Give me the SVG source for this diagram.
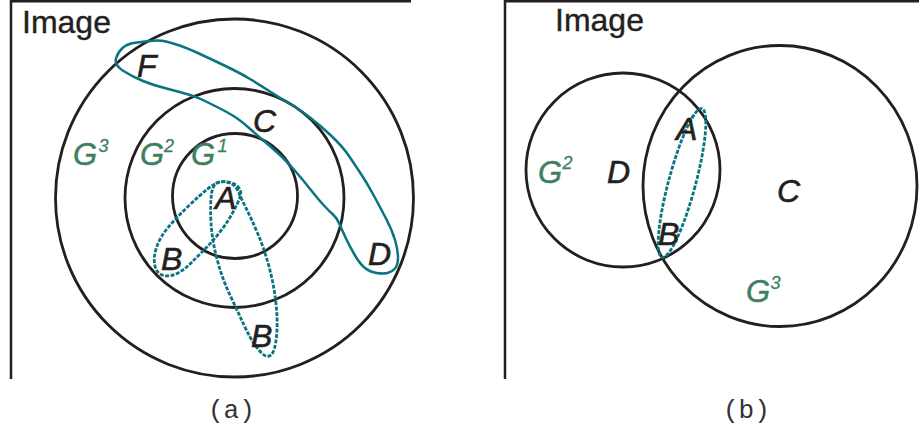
<svg xmlns="http://www.w3.org/2000/svg" width="919" height="430" viewBox="0 0 919 430">
<defs>
<style>
.frame{fill:none;stroke:#231f20;stroke-width:2.5}
.ring{fill:none;stroke:#231f20;stroke-width:2.8}
.loop{fill:none;stroke:#0a7480;stroke-width:2.5;stroke-linejoin:round}
.dot{fill:none;stroke:#0a7480;stroke-width:2.8;stroke-dasharray:4 1.5;stroke-linejoin:round}
.lbl{font-family:"Liberation Sans",Arial,sans-serif;font-style:italic;font-size:32px;fill:#231f20;stroke:#231f20;stroke-width:0.6}
.g{font-family:"Liberation Sans",Arial,sans-serif;font-style:italic;font-size:31px;fill:#3f7f5f;stroke:#3f7f5f;stroke-width:0.5}
.sup{font-family:"Liberation Sans",Arial,sans-serif;font-style:italic;font-size:18px;fill:#3f7f5f;stroke:#3f7f5f;stroke-width:0.3}
.title{font-family:"Liberation Sans",Arial,sans-serif;font-size:32px;fill:#231f20;stroke:#231f20;stroke-width:0.4}
.cap{font-family:"Liberation Mono","Courier New",monospace;font-size:26px;fill:#333333}
</style>
</defs>
<rect width="919" height="430" fill="#ffffff"/>

<g id="panel-a-frame">
<path class="frame" d="M11,379 V1.3 H411"/>
<text class="title" x="22" y="33">Image</text>
</g>
<g id="G3-a"><circle class="ring" cx="234.5" cy="198" r="179"/>
<text class="g" x="73" y="165">G</text><text class="sup" x="98.5" y="152">3</text></g>
<g id="G2-a"><circle class="ring" cx="234.5" cy="198" r="109.5"/>
<text class="g" x="140" y="165">G</text><text class="sup" x="164" y="152">2</text></g>
<g id="G1-a"><circle class="ring" cx="235" cy="196" r="62.5"/>
<text class="g" x="191" y="165">G</text><text class="sup" x="217.5" y="152">1</text></g>

<g id="connectors-a">
<path class="loop" d="M123.5,71 Q114,65 116,58.5 Q118,52 122.5,48 Q127,44 133.5,43 Q140,42 150,41 Q160,40 166,41.5 Q172,43 179.5,45.5 Q187,48 200,54 Q213,60 226.5,66.5 Q240,73 250,79 Q260,85 270,91.5 Q280,98 288,102.5 Q296,107 308,116 Q320,125 331.5,136 Q343,147 349,156 Q355,165 361,174 Q367,183 373.5,195 Q380,207 386,218.5 Q392,230 395,240 Q398,250 398,257.5 Q398,265 395,268.5 Q392,272 387.5,273 Q383,274 376.5,273 Q370,272 365,268 Q360,264 355,255.5 Q350,247 346,238.5 Q342,230 339.5,224 Q337,218 333,214.5 Q329,211 323.5,205 Q318,199 310.5,189.5 Q303,180 296.5,172.5 Q290,165 284,159 Q278,153 267.5,144 Q257,135 248.5,127.5 Q240,120 233.5,116 Q227,112 220,108.5 Q213,105 205,101 Q197,97 188.5,94.5 Q180,92 166.5,88.5 Q153,85 143,81 Q133,77 123.5,71 Z"/>
<path class="dot" d="M220,182 Q215,183 207.5,189 Q200,195 188.5,206 Q177,217 168.5,227 Q160,237 156.5,247.5 Q153,258 155,266 Q157,274 163.5,275.5 Q170,277 177,273.5 Q184,270 190.5,263.5 Q197,257 204.5,249.5 Q212,242 219.5,232.5 Q227,223 232.5,213 Q238,203 240,197.5 Q242,192 239,188 Q236,184 230.5,182.5 Q225,181 220,182 Z"/>
<path class="dot" d="M219.5,182 Q213,183 211.5,194 Q210,205 211,222.5 Q212,240 217,259 Q222,278 229.5,294 Q237,310 243.5,324 Q250,338 255,345 Q260,352 264,355 Q268,358 271.5,354.5 Q275,351 276.5,336.5 Q278,322 276,303.5 Q274,285 269,266.5 Q264,248 257.5,233 Q251,218 246,208 Q241,198 238.5,192 Q236,186 231,183.5 Q226,181 219.5,182 Z"/>
</g>

<g id="labels-a">
<text id="F-a" class="lbl" x="137" y="77">F</text>
<text id="C-a" class="lbl" x="253" y="132">C</text>
<text id="A-a" class="lbl" x="215" y="209">A</text>
<text id="B1-a" class="lbl" x="161" y="270">B</text>
<text id="B2-a" class="lbl" x="251" y="347">B</text>
<text id="D-a" class="lbl" x="368" y="265">D</text>
</g>
<text class="cap" x="208" y="418">(a)</text>

<g id="panel-b-frame">
<path class="frame" d="M505,379 V1.3 H919"/>
<text class="title" x="555" y="31">Image</text>
</g>
<g id="G2-b"><circle class="ring" cx="623" cy="170" r="97"/>
<text class="g" x="538" y="183">G</text><text class="sup" x="562.5" y="169">2</text></g>
<g id="G3-b"><ellipse class="ring" cx="780" cy="186" rx="137" ry="140.5"/>
<text class="g" x="746" y="302">G</text><text class="sup" x="770.5" y="289">3</text></g>
<g id="connectors-b">
<ellipse class="dot" cx="682" cy="183" rx="13.5" ry="77" transform="rotate(15 682 183)"/>
</g>
<g id="labels-b">
<text id="D-b" class="lbl" x="607" y="183">D</text>
<text id="A-b" class="lbl" x="676" y="140">A</text>
<text id="C-b" class="lbl" x="777" y="202">C</text>
<text id="B-b" class="lbl" x="658" y="245">B</text>
</g>
<text class="cap" x="723" y="418">(b)</text>
</svg>
